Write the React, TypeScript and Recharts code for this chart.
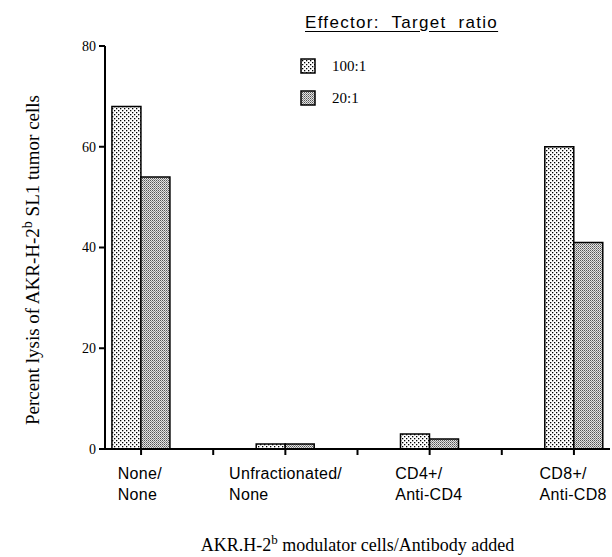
import { BarChart, Bar, XAxis, YAxis, Legend } from 'recharts'

const categories = ['None/None', 'Unfractionated/None', 'CD4+/Anti-CD4', 'CD8+/Anti-CD8']
const ratio100 = [68, 1, 3, 60]
const ratio20 = [54, 1, 2, 41]
const yTicks = [0, 20, 40, 60, 80]
const xTicks = [0, 0.5, 1, 1.5, 2, 2.5, 3]

const data = categories.map((name, i) => ({
  pos: i,
  name,
  r100: ratio100[i],
  r20: ratio20[i],
}))

const SANS = "'Liberation Sans', Arial, sans-serif"
const SERIF = "'Liberation Serif', 'Times New Roman', serif"

let measureCtx: CanvasRenderingContext2D | null = null
const textWidth = (s: string, font: string) => {
  if (!measureCtx) measureCtx = document.createElement('canvas').getContext('2d')
  if (!measureCtx) return s.length * 8
  measureCtx.font = font
  return measureCtx.measureText(s).width
}

const CategoryTick = ({ x, y, payload }: any) => {
  const v = Number(payload.value)
  if (!Number.isInteger(v)) return null
  const lines = (categories[v] || '').split('/')
  const top = lines[0] + '/'
  const bottom = lines[1]
  const w = Math.max(textWidth(top, `16px ${SANS}`), textWidth(bottom, `16px ${SANS}`)) + 4
  return (
    <text
      x={x - w / 2}
      y={y}
      fontFamily={SANS}
      fontSize={16}
      letterSpacing="0.3px"
      fill="#000"
      textAnchor="start"
    >
      <tspan x={x - w / 2} dy={22}>{top}</tspan>
      <tspan x={x - w / 2} dy={21}>{bottom}</tspan>
    </text>
  )
}

const YTitle = () => (
  <text
    x={39}
    y={260}
    transform="rotate(-90, 39, 260)"
    textAnchor="middle"
    fontFamily={SERIF}
    fontSize={19}
    fill="#000"
  >
    Percent lysis of AKR-H-2
    <tspan dy={-7} fontSize={14}>b</tspan>
    <tspan dy={7}> SL1 tumor cells</tspan>
  </text>
)

const XTitle = () => (
  <text x={357.5} y={551} textAnchor="middle" fontFamily={SERIF} fontSize={18} fill="#000">
    AKR.H-2
    <tspan dy={-7} fontSize={13}>b</tspan>
    <tspan dy={7}> modulator cells/Antibody added</tspan>
  </text>
)

const LegendBox = ({ payload }: any) => (
  <div style={{ position: 'relative', width: 220, height: 100 }}>
    <div
      style={{
        position: 'absolute',
        left: 5,
        top: 3,
        fontFamily: SANS,
        fontSize: 17,
        letterSpacing: '1.3px',
        whiteSpace: 'pre',
        textDecoration: 'underline',
        textUnderlineOffset: '3px',
        color: '#000',
      }}
    >
      {'Effector:  Target  ratio'}
    </div>
    {(payload || []).map((p: any, i: number) => (
      <div
        key={p.value}
        style={{
          position: 'absolute',
          left: 0,
          top: 48 + i * 32,
          display: 'flex',
          alignItems: 'center',
          height: 16,
        }}
      >
        <svg width={16} height={16}>
          <rect x={1} y={1} width={14} height={14} fill={p.color} stroke="#000" strokeWidth={1.5} />
        </svg>
        <span style={{ marginLeft: 16, fontFamily: SERIF, fontSize: 15, color: '#000' }}>{p.value}</span>
      </div>
    ))}
  </div>
)

export default function App() {
  return (
    <div
      style={{
        position: 'absolute',
        left: 0,
        top: 0,
        width: 612,
        height: 557,
        overflow: 'hidden',
        background: '#fff',
      }}
    >
      <BarChart
        width={612}
        height={557}
        data={data}
        margin={{ top: 46, right: 2, bottom: 38, left: 45 }}
        barGap={0}
      >
        <defs>
          <pattern id="dots" width="4" height="4" patternUnits="userSpaceOnUse">
            <rect width="4" height="4" fill="#fff" />
            <rect x="0" y="0" width="1.3" height="1.3" fill="#000" />
            <rect x="2" y="2" width="1.3" height="1.3" fill="#000" />
          </pattern>
          <pattern id="stipple" width="2" height="2" patternUnits="userSpaceOnUse">
            <rect width="2" height="2" fill="#e4e4e4" />
            <rect x="0" y="0" width="1" height="1" fill="#555" />
            <rect x="1" y="1" width="1" height="1" fill="#8a8a8a" />
          </pattern>
        </defs>
        <XAxis
          dataKey="pos"
          type="number"
          domain={[-0.25, 3.25]}
          ticks={xTicks}
          interval={0}
          height={70}
          tickSize={6}
          stroke="#000"
          strokeWidth={2}
          tick={<CategoryTick />}
          axisLine={{ stroke: '#000', strokeWidth: 2 }}
          tickLine={{ stroke: '#000', strokeWidth: 2 }}
          label={<XTitle />}
        />
        <YAxis
          domain={[0, 80]}
          ticks={yTicks}
          width={60}
          tickSize={6}
          tickMargin={3}
          stroke="#000"
          strokeWidth={2}
          tick={{ fill: '#000', fontSize: 14, fontFamily: SERIF }}
          axisLine={{ stroke: '#000', strokeWidth: 2 }}
          tickLine={{ stroke: '#000', strokeWidth: 2 }}
          label={<YTitle />}
        />
        <Legend
          layout="vertical"
          verticalAlign="middle"
          align="center"
          content={<LegendBox />}
          wrapperStyle={{ top: 10, left: 300, width: 220 }}
        />
        <Bar
          dataKey="r100"
          name="100:1"
          fill="url(#dots)"
          stroke="#000"
          strokeWidth={1.5}
          barSize={29}
          isAnimationActive={false}
        />
        <Bar
          dataKey="r20"
          name="20:1"
          fill="url(#stipple)"
          stroke="#000"
          strokeWidth={1.5}
          barSize={29}
          isAnimationActive={false}
        />
      </BarChart>
    </div>
  )
}
